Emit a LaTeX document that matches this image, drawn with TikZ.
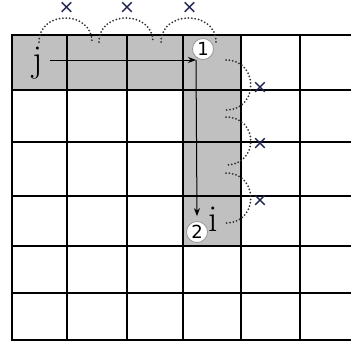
\documentclass[tikz,border=0pt]{standalone}
\usepackage{fontspec}
\usepackage{tikz}
\usetikzlibrary{arrows.meta,positioning}
\newfontfamily\numfont{DejaVu Sans}
\definecolor{cellgray}{RGB}{192,192,192}
\definecolor{crossblue}{RGB}{30,35,80}
\definecolor{dotgray}{RGB}{50,50,50}

\begin{document}
\begin{tikzpicture}[
  x=1pt, y=-1pt,
  every node/.style={inner sep=0pt, text centered},
  grid_line/.style={line width=1.6pt, black},
  border_line/.style={line width=2.4pt, black},
  path_arrow/.style={-{Stealth[length=8pt,width=6pt]}, line width=1pt},
  hop/.style={dotgray, line width=2pt, line cap=round, dash pattern=on 0pt off 3.4pt},
  num_circle/.style={circle, draw=gray!80, line width=0.8pt, fill=white, minimum size=21pt, font=\numfont\fontsize{18}{18}\selectfont},
  cross/.style={font=\numfont\fontsize{19}{19}\selectfont, text=crossblue},
  index_label/.style={font=\fontsize{38}{38}\selectfont, anchor=base}
]
\useasboundingbox (0,0) rectangle (351,343);

% Shaded row and column
\fill[cellgray] (12,35) -- (241,35) -- (241,246) -- (183,246) -- (183,90) -- (12,90) -- cycle;

% Grid
\foreach \y in {90,142,196,246,293}
  \draw[grid_line] (12,\y) -- (351,\y);
\foreach \x in {67,127,183,241,300}
  \draw[grid_line] (\x,35) -- (\x,340);
\draw[grid_line, line width=2pt] (11,35) -- (351,35);
\draw[border_line] (351,340) -- (12,340) -- (12,34);

% Indices
\node[index_label] (j) at (38,71) {j};
\node[index_label] (i) at (213,231) {i};

% Numbered steps
\node[num_circle] (n1) at (203,49) {1};
\node[num_circle] (n2) at (197,232) {2};

% Arrows
\coordinate (turn) at (196,60);
\draw[path_arrow] ([xshift=7pt]j.east |- turn) -- (turn);
\draw[path_arrow] (turn) -- ([yshift=5pt]n2.north);

% Skipped hops along the row
\foreach \a/\b [count=\k] in {39/92, 99/153, 161/216} {
  \draw[hop] (\a,42) .. controls (\a,10) and (\b,10) .. (\b,42);
  \node[cross] (top\k) at ({(\a+\b)/2+1},8) {×};
}

% Skipped hops down the column
\foreach \a/\b [count=\k] in {60/110, 117/165, 173/223} {
  \draw[hop] (226,\a) .. controls (259,\a) and (259,\b) .. (226,\b);
  \node[cross] (side\k) at (260,{(\a+\b)/2+3}) {×};
}

\end{tikzpicture}
\end{document}
